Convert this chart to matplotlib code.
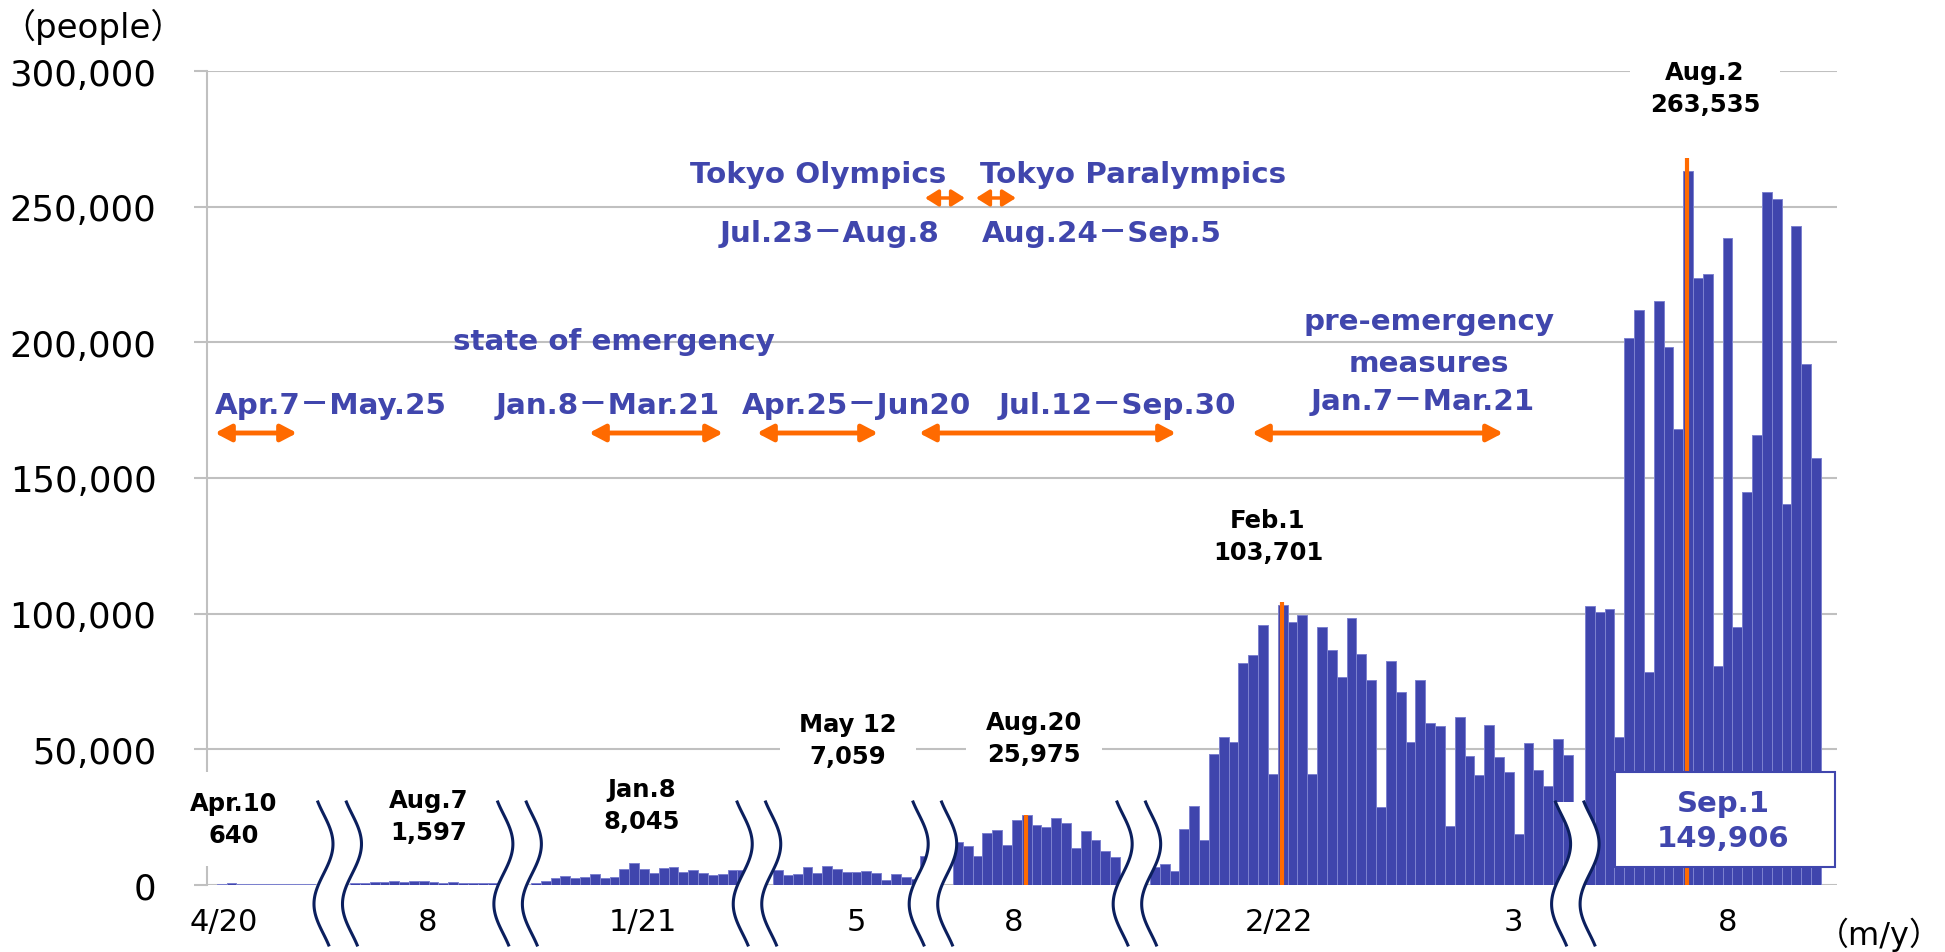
import numpy as np
import matplotlib
matplotlib.use("Agg")
import matplotlib.pyplot as plt
from matplotlib.patches import Rectangle, FancyArrowPatch, Polygon
from matplotlib.transforms import blended_transform_factory

plt.rcParams['font.family'] = ['DejaVu Sans', 'Noto Sans CJK JP']

# bar values per period shown (people)
apr20 = [150, 250, 640, 300, 200, 350, 250, 200, 300, 250, 300]
aug20 = [700, 900, 1000, 1100, 1300, 1200, 1597, 1300, 1000, 900, 1000, 800, 900, 700, 800]
jan21 = [800, 1300, 2450, 3300, 2450, 3060, 3900, 2700, 3060, 5750, 8045,
         5900, 4300, 6400, 6700, 4900, 5400, 4500, 3700, 4000, 5500, 5500]
may21 = [5400, 3550, 3900, 6600, 4500, 7059, 5750, 4900, 4900, 5100, 4400,
         2000, 3900, 2900, 2100, 10700]
aug21 = [15900, 14400, 10700, 19000, 20300, 14700, 24000, 25975, 22100, 21500,
         24800, 22700, 13500, 19900, 16600, 12600, 10400]
feb22 = [6500, 7700, 5300, 20600, 29000, 16700, 48400, 54700, 52700, 81700,
         84600, 96000, 41000, 103200, 97000, 99600, 40800, 95000, 86500, 76600,
         98300, 85200, 75700, 28900, 82400, 71000, 52800, 75600, 59600, 58500,
         21700, 61900, 47700, 40600, 58900, 47300, 41500, 18800, 52200, 42400,
         36400, 53700, 48000]
aug22 = [103000, 100600, 101700, 54500, 201700, 212000, 78600, 215400, 198300,
         167900, 263000, 223700, 225200, 80800, 238300, 95100, 144700, 165800,
         255300, 252800, 140600, 243000, 192100, 157500]
periods = [apr20, aug20, jan21, may21, aug21, feb22, aug22]

tick_labels = ["4/20", "8", "1/21", "5", "8", "2/22", "3", "8"]
yticks = [0, 50000, 100000, 150000, 200000, 250000, 300000]

peak_names = ["Apr.10", "Aug.7", "Jan.8", "May 12", "Aug.20", "Feb.1", "Aug.2"]
peak_values = [640, 1597, 8045, 7059, 25975, 103701, 263535]
latest_name = "Sep.1"
latest_value = 149906

# orange peak markers: period, bar in period, top of the line
marker_period = [4, 5, 6]
marker_bar = [7, 13, 10]
marker_top = [25975, 104300, 268000]

# periods of measures
emergency = ["Apr.7－May.25", "Jan.8－Mar.21", "Apr.25－Jun20", "Jul.12－Sep.30"]
pre_emergency = "Jan.7－Mar.21"
games = ["Tokyo Olympics", "Tokyo Paralympics"]
games_dates = ["Jul.23－Aug.8", "Aug.24－Sep.5"]

# ---- layout (slot = one bar) ----
W, H = 1945, 953
PX = 9.83                      # pixels per bar slot
PERIOD_START = [0.0, 14.55, 32.96, 57.58, 75.89, 95.93, 140.18]
BREAK_AT = [13.3, 31.6, 55.95, 73.85, 94.6, 139.2]
TICK_AT = [1.73, 22.4, 44.35, 66.1, 82.1, 109.05, 132.9, 154.7]

BAR = '#3f45ad'
EDGE = '#7c81cf'
BLUE = '#4046ad'
ORANGE = '#ff6a00'
NAVY = '#0b1f5e'
GRID = '#c0c0c0'

fig = plt.figure(figsize=(W / 100, H / 100), dpi=100)
ax = fig.add_axes([207 / W, 1 - 886 / H, (1837 - 207) / W, (886 - 72) / H])


def fx(x):
    return x / W


def fy(y):
    return 1 - y / H


for start, vals in zip(PERIOD_START, periods):
    x = start + np.arange(len(vals))
    ax.bar(x, vals, width=1, align='edge', color=BAR, edgecolor=EDGE,
           linewidth=0.7, zorder=2)

for p, b, top in zip(marker_period, marker_bar, marker_top):
    xm = PERIOD_START[p] + b + 0.4
    ax.plot([xm, xm], [0, top], color=ORANGE, lw=3, solid_capstyle='butt', zorder=3)

ax.set_xlim(0, (1837 - 207) / PX)
ax.set_ylim(0, 300000)
ax.set_yticks(yticks)
ax.set_yticklabels([f"{v:,}" for v in yticks], fontsize=25.5)
ax.set_xticks(TICK_AT)
ax.set_xticklabels(tick_labels, fontsize=22)
ax.tick_params(axis='x', length=0, pad=16)
ax.tick_params(axis='y', length=9.4, width=1.5, color=GRID, pad=27)
ax.yaxis.grid(True, color=GRID, lw=1.5)
ax.set_axisbelow(True)
for s in ['top', 'right', 'bottom']:
    ax.spines[s].set_visible(False)
ax.spines['left'].set_color(GRID)
ax.spines['left'].set_linewidth(1.5)

# axis break marks
trans = blended_transform_factory(ax.transData, fig.transFigure)
d = np.linspace(0, 143, 90)
wave = 9.5 * np.sin(2 * np.pi * (d - 12) / 120) / PX
yy = fy(803 + d)
for b in BREAK_AT:
    left = b - 1.45 + wave
    right = b + 1.45 + wave
    poly = np.column_stack([np.r_[left, right[::-1]], np.r_[yy, yy[::-1]]])
    ax.add_patch(Polygon(poly, closed=True, fc='white', ec='none',
                         transform=trans, clip_on=False, zorder=4))
    for line in (left, right):
        ax.plot(line, yy, color=NAVY, lw=2.2, transform=trans, clip_on=False, zorder=4.1)

# peak labels (white box hides grid and axis lines behind them)
label_x = [234, 429, 642, 848, 1034, 1268, 1705]
label_y = [820, 817, 806, 741, 739, 537, 89]
for name, v, x, y in zip(peak_names, peak_values, label_x, label_y):
    fig.text(fx(x), fy(y), f"{name}\n{v:,}", ha='center', va='center',
             ma='center', fontsize=17.5, fontweight='bold', linespacing=1.42,
             zorder=3.5, bbox=dict(fc='white', ec='none', pad=14))

# latest value box
fig.add_artist(Rectangle((fx(1615), fy(868)), (1835 - 1615) / W, (868 - 773) / H,
                         transform=fig.transFigure, fc='white', ec=BLUE, lw=1.5, zorder=6))
fig.text(fx(1723), fy(812), latest_name, ha='center', va='baseline', fontsize=21,
         fontweight='bold', color=BLUE, zorder=7)
fig.text(fx(1723), fy(847), f"{latest_value:,}", ha='center', va='baseline', fontsize=21,
         fontweight='bold', color=BLUE, zorder=7)


def blue(x, y, s):
    fig.text(fx(x), fy(y), s, ha='center', va='baseline', fontsize=21.2,
             fontweight='bold', color=BLUE, zorder=5)


def arrow(x0, x1, y, lw=3.5, hl=0.95, hw=0.5):
    fig.add_artist(FancyArrowPatch((fx(x0), fy(y)), (fx(x1), fy(y)),
                                   transform=fig.transFigure,
                                   arrowstyle=f'<|-|>,head_length={hl},head_width={hw}',
                                   mutation_scale=10, color=ORANGE, lw=lw,
                                   shrinkA=0, shrinkB=0, zorder=5))


blue(818, 183, games[0])
blue(1133, 183, games[1])
blue(830, 242, games_dates[0])
blue(1102, 242, games_dates[1])
arrow(925, 965, 199, lw=2.5, hl=0.8, hw=0.5)
arrow(976, 1016, 199, lw=2.5, hl=0.8, hw=0.5)

blue(614, 350, "state of emergency")
for x, s in zip([331, 608, 856, 1117], emergency):
    blue(x, 414, s)
for x0, x1 in [(215, 297), (589, 723), (757, 878), (919, 1176)]:
    arrow(x0, x1, 434)

blue(1429, 330, "pre-emergency")
blue(1429, 372, "measures")
blue(1423, 410, pre_emergency)
arrow(1252, 1503, 434)

fig.text(fx(93), fy(27), "（people）", ha='center', va='center', fontsize=24.5)
fig.text(fx(1879), fy(935), "（m/y）", ha='center', va='center', fontsize=23)

fig.savefig("out.png", dpi=100)
